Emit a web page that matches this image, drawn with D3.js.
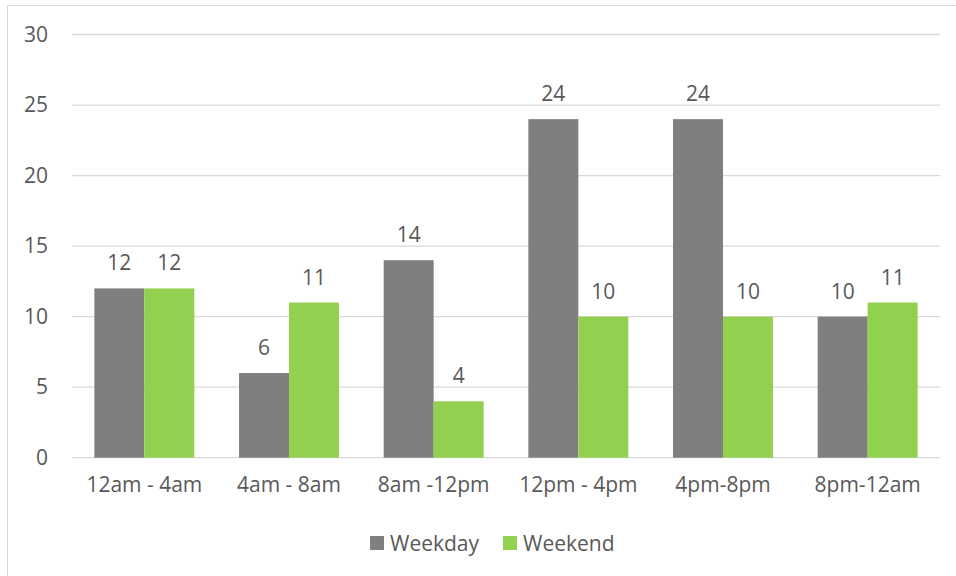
<!DOCTYPE html>
<html>
<head>
<meta charset="utf-8">
<script src="https://cdn.jsdelivr.net/npm/d3@7"></script>
<style>
  body { margin: 0; background: #fff; }
  text { font-family: "Open Sans", sans-serif; fill: #595959; }
</style>
</head>
<body>
<div id="chart"></div>
<script>
const categories = ["12am - 4am", "4am - 8am", "8am -12pm", "12pm - 4pm", "4pm-8pm", "8pm-12am"];
const weekday = [12, 6, 14, 24, 24, 10];
const weekend = [12, 11, 4, 10, 10, 11];
const yTicks = [0, 5, 10, 15, 20, 25, 30];
const seriesNames = ["Weekday", "Weekend"];

const width = 956;
const height = 576;
const plot = { left: 72, right: 940, top: 34.5, bottom: 457.7 };
const colors = ["#7f7f7f", "#92d050"];
const fontSize = "21px";

const svg = d3
  .select("#chart")
  .append("svg")
  .attr("width", width)
  .attr("height", height);

// chart border (only top/left visible in the crop)
svg
  .append("rect")
  .attr("x", 7.5)
  .attr("y", 5.5)
  .attr("width", width + 20)
  .attr("height", height + 20)
  .attr("fill", "none")
  .attr("stroke", "#d9d9d9");

const x = d3
  .scaleBand()
  .domain(categories)
  .range([plot.left, plot.right])
  .paddingInner(0.309)
  .paddingOuter(0.1545);

const xInner = d3
  .scaleBand()
  .domain(seriesNames)
  .range([0, x.bandwidth()]);

const y = d3
  .scaleLinear()
  .domain([0, 30])
  .range([plot.bottom, plot.top]);

// gridlines
svg
  .append("g")
  .selectAll("line")
  .data(yTicks)
  .enter()
  .append("line")
  .attr("x1", plot.left)
  .attr("x2", plot.right)
  .attr("y1", (d) => y(d))
  .attr("y2", (d) => y(d))
  .attr("stroke", "#d9d9d9")
  .attr("stroke-width", 1.3);

// y axis labels
const yAxis = d3.axisLeft(y).tickValues(yTicks).tickSize(0).tickPadding(0);
svg
  .append("g")
  .attr("transform", `translate(48, 0)`)
  .call(yAxis)
  .call((g) => g.select(".domain").remove())
  .selectAll("text")
  .style("font-size", fontSize)
  .attr("fill", "#595959");

// x axis labels
const xAxis = d3.axisBottom(x).tickSize(0).tickPadding(0);
svg
  .append("g")
  .attr("transform", `translate(0, 477)`)
  .call(xAxis)
  .call((g) => g.select(".domain").remove())
  .selectAll("text")
  .style("font-size", fontSize)
  .attr("fill", "#595959");

// bars
const rows = categories.map((c, i) => ({
  cat: c,
  values: [
    { name: seriesNames[0], v: weekday[i] },
    { name: seriesNames[1], v: weekend[i] },
  ],
}));

const groups = svg
  .append("g")
  .selectAll("g")
  .data(rows)
  .enter()
  .append("g")
  .attr("transform", (d) => `translate(${x(d.cat)}, 0)`);

groups
  .selectAll("rect")
  .data((d) => d.values)
  .enter()
  .append("rect")
  .attr("x", (d) => xInner(d.name))
  .attr("width", xInner.bandwidth())
  .attr("y", (d) => y(d.v))
  .attr("height", (d) => y(0) - y(d.v))
  .attr("fill", (d, i) => colors[i]);

groups
  .selectAll("text")
  .data((d) => d.values)
  .enter()
  .append("text")
  .attr("x", (d) => xInner(d.name) + xInner.bandwidth() / 2)
  .attr("y", (d) => y(d.v) - 18)
  .attr("text-anchor", "middle")
  .style("font-size", fontSize)
  .text((d) => d.v);

// legend
const legendItems = [
  { name: seriesNames[0], color: colors[0], x: 370 },
  { name: seriesNames[1], color: colors[1], x: 503 },
];
const legend = svg.append("g").attr("id", "legend");
legend
  .selectAll("rect")
  .data(legendItems)
  .enter()
  .append("rect")
  .attr("x", (d) => d.x)
  .attr("y", 536)
  .attr("width", 14)
  .attr("height", 14)
  .attr("fill", (d) => d.color);
legend
  .selectAll("text")
  .data(legendItems)
  .enter()
  .append("text")
  .attr("x", (d) => d.x + 20)
  .attr("y", 550.5)
  .style("font-size", fontSize)
  .text((d) => d.name);
</script>
</body>
</html>
